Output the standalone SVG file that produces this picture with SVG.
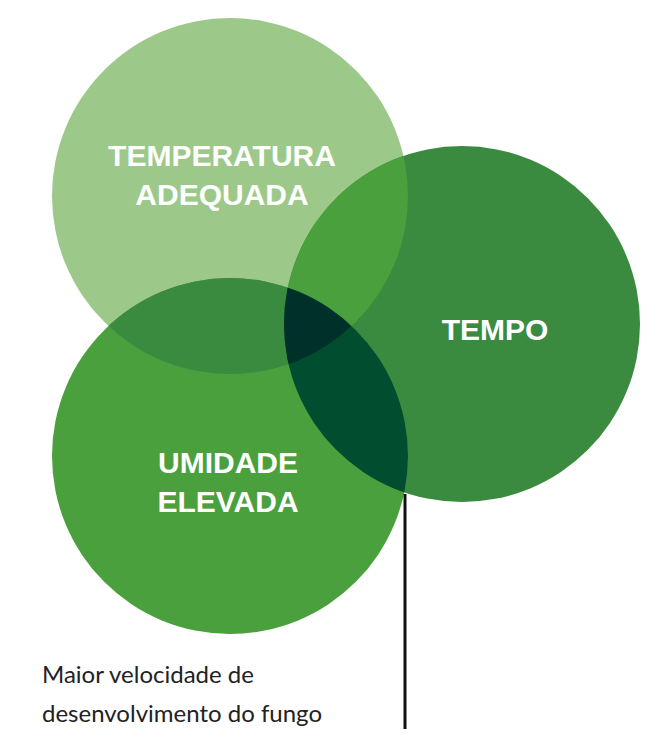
<svg xmlns="http://www.w3.org/2000/svg" width="653" height="749" viewBox="0 0 653 749">
<style>
.l{font-family:"Liberation Sans",Arial,sans-serif;font-weight:bold;font-size:30px;fill:#fff;text-anchor:middle}
.c{font-family:"Lato","Liberation Sans",sans-serif;font-size:24px;fill:#222}
</style>
<defs>
<clipPath id="cT"><circle cx="230" cy="196" r="178"/></clipPath>
<clipPath id="cR"><circle cx="462" cy="324" r="178"/></clipPath>
<clipPath id="cB"><circle cx="230" cy="456" r="178"/></clipPath>
</defs>
<rect width="653" height="749" fill="#fff"/>
<g id="temperatura"><circle cx="230" cy="196" r="178" fill="#9cc98a"/></g>
<g id="tempo"><circle cx="462" cy="324" r="178" fill="#3a8a3f"/></g>
<g id="umidade"><circle cx="230" cy="456" r="178" fill="#4aa03c"/></g>
<g id="overlaps">
<circle cx="230" cy="456" r="178" fill="#3a8a3f" clip-path="url(#cT)"/>
<circle cx="462" cy="324" r="178" fill="#4aa03c" clip-path="url(#cT)"/>
<circle cx="462" cy="324" r="178" fill="#004d30" clip-path="url(#cB)"/>
<g clip-path="url(#cT)"><circle cx="462" cy="324" r="178" fill="#00302a" clip-path="url(#cB)"/></g>
</g>
<g id="labels">
<text class="l" x="222" y="166">TEMPERATURA</text>
<text class="l" x="222" y="205">ADEQUADA</text>
<text class="l" x="495" y="340">TEMPO</text>
<text class="l" x="228" y="473">UMIDADE</text>
<text class="l" x="228" y="512">ELEVADA</text>
</g>
<g id="connectors"><line x1="405" y1="494" x2="405" y2="729" stroke="#111" stroke-width="3"/></g>
<g id="caption">
<text class="c" x="42" y="683">Maior velocidade de</text>
<text class="c" x="42" y="722">desenvolvimento do fungo</text>
</g>
</svg>
